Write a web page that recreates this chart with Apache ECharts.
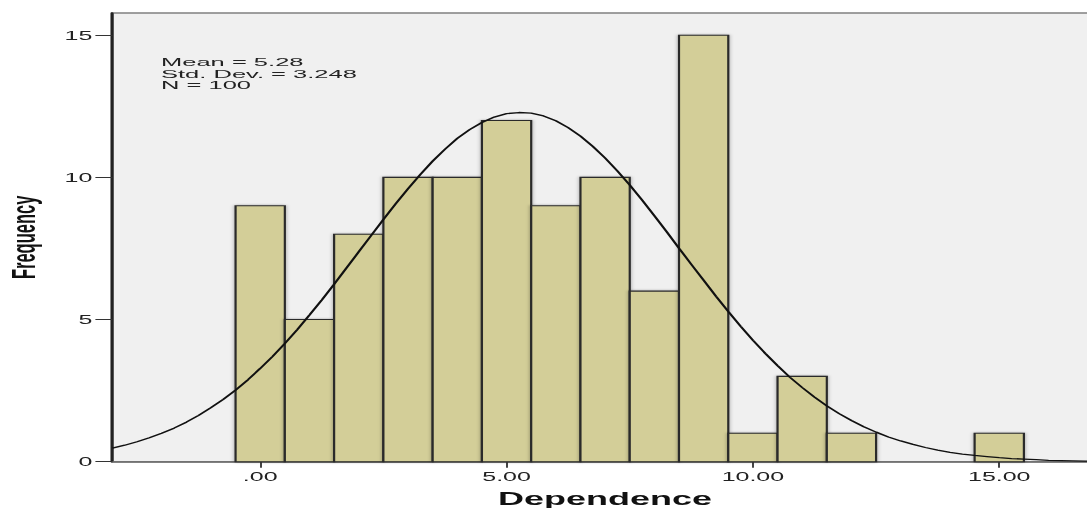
<!DOCTYPE html>
<html>
<head>
<meta charset="utf-8">
<script src="https://cdn.jsdelivr.net/npm/echarts@6/dist/echarts.min.js"></script>
<style>
html,body{margin:0;padding:0;overflow:hidden;background:#fff;}
#c{width:543.5px;height:508px;transform:scaleX(2);transform-origin:0 0;}
</style>
</head>
<body>
<div id="c"></div>
<script>
// Histogram bins (centers) and frequencies
const binCenters = [0, 1, 2, 3, 4, 5, 6, 7, 8, 9, 10, 11, 12, 13, 14, 15];
const frequencies = [9, 5, 8, 10, 10, 12, 9, 10, 6, 15, 1, 3, 1, 0, 0, 1];
// Normal curve (x step 0.25 from -3 to 17)
const curveX = [-3, -2.75, -2.5, -2.25, -2, -1.75, -1.5, -1.25, -1, -0.75, -0.5, -0.25,
  0, 0.25, 0.5, 0.75, 1, 1.25, 1.5, 1.75, 2, 2.25, 2.5, 2.75, 3, 3.25, 3.5, 3.75,
  4, 4.25, 4.5, 4.75, 5, 5.25, 5.5, 5.75, 6, 6.25, 6.5, 6.75, 7, 7.25, 7.5, 7.75,
  8, 8.25, 8.5, 8.75, 9, 9.25, 9.5, 9.75, 10, 10.25, 10.5, 10.75, 11, 11.25, 11.5, 11.75,
  12, 12.25, 12.5, 12.75, 13, 13.25, 13.5, 13.75, 14, 14.25, 14.5, 14.75, 15, 15.25, 15.5, 15.75,
  16, 16.25, 16.5, 16.75, 17];
const curveY = [0.48, 0.58, 0.70, 0.84, 1.00, 1.18, 1.39, 1.63, 1.90, 2.19, 2.52, 2.88,
  3.28, 3.70, 4.16, 4.64, 5.16, 5.69, 6.24, 6.81, 7.38, 7.95, 8.52, 9.07, 9.60, 10.10, 10.57, 10.99,
  11.37, 11.68, 11.93, 12.12, 12.24, 12.28, 12.26, 12.16, 11.99, 11.75, 11.45, 11.09, 10.68, 10.22, 9.73, 9.20,
  8.65, 8.09, 7.51, 6.94, 6.38, 5.82, 5.28, 4.76, 4.27, 3.81, 3.38, 2.97, 2.61, 2.27, 1.96, 1.69,
  1.45, 1.23, 1.04, 0.87, 0.73, 0.61, 0.50, 0.41, 0.33, 0.27, 0.22, 0.18, 0.14, 0.11, 0.09, 0.07,
  0.05, 0.04, 0.03, 0.02, 0.02];
const xTicks = [0, 5, 10, 15];
const yTicks = [0, 5, 10, 15];
const statsLines = ['Mean = 5.28', 'Std. Dev. = 3.248', 'N = 100'];
const xTitle = 'Dependence';
const yTitle = 'Frequency';

const FONT = '"Liberation Sans", Arial, sans-serif';
const chart = echarts.init(document.getElementById('c'), null, {renderer: 'svg', width: 543.5, height: 508});

const barData = binCenters.map((c, i) => [c, frequencies[i]]);
const curveData = curveX.map((x, i) => [x, curveY[i]]);

chart.setOption({
  animation: false,
  backgroundColor: '#ffffff',
  graphic: [{
    type: 'text',
    left: 80.5,
    top: 56,
    scaleX: 1.11,
    z: 10,
    style: {
      text: statsLines.join('\n'),
      font: 'normal 11.5px ' + FONT,
      lineHeight: 11.5,
      fill: '#222'
    }
  }],
  grid: {
    left: 56.2, top: 13, width: 492.7, height: 448.7,
    outerBoundsMode: 'none', containLabel: false,
    show: true, backgroundColor: '#f0f0f0', borderColor: '#808080', borderWidth: 1.5
  },
  xAxis: {
    type: 'value', min: -3, max: 17,
    name: xTitle, nameLocation: 'middle', nameGap: 28,
    nameTextStyle: {fontFamily: FONT, fontSize: 18, fontWeight: 'bold', color: '#111'},
    splitLine: {show: false},
    axisLine: {show: true, onZero: false, lineStyle: {color: '#6e6e6e', width: 1.5}},
    axisTick: {show: true, customValues: xTicks, length: 6, lineStyle: {color: '#444', width: 1}},
    axisLabel: {
      customValues: xTicks, margin: 8,
      fontFamily: FONT, fontSize: 12.5, color: '#222',
      formatter: v => (v === 0 ? '.00' : v.toFixed(2))
    }
  },
  yAxis: {
    type: 'value', min: 0, max: 15.78,
    name: yTitle, nameLocation: 'middle', nameGap: 36, nameRotate: 90,
    nameTextStyle: {fontFamily: FONT, fontSize: 16.5, fontWeight: 'bold', color: '#111'},
    splitLine: {show: false},
    axisLine: {show: true, onZero: false, lineStyle: {color: '#222', width: 1.5}},
    axisTick: {show: true, customValues: yTicks, length: 8.5, lineStyle: {color: '#333', width: 1}},
    axisLabel: {customValues: yTicks, margin: 10, fontFamily: FONT, fontSize: 12.5, color: '#222'}
  },
  series: [
    {
      type: 'custom',
      data: barData,
      z: 2,
      renderItem: function (params, api) {
        const x = api.value(0), y = api.value(1);
        if (!y) return null;
        const p0 = api.coord([x - 0.5, y]);
        const p1 = api.coord([x + 0.5, 0]);
        return {
          type: 'rect',
          shape: {x: p0[0], y: p0[1], width: p1[0] - p0[0], height: p1[1] - p0[1]},
          style: {
            fill: '#d3ce98', stroke: '#2b2b2b', lineWidth: 1.1,
            shadowBlur: 2, shadowColor: 'rgba(0,0,0,0.35)'
          }
        };
      }
    },
    {
      type: 'line',
      data: curveData,
      z: 3,
      smooth: false,
      showSymbol: false,
      lineStyle: {color: '#111', width: 1.3}
    }
  ]
});
</script>
</body>
</html>
